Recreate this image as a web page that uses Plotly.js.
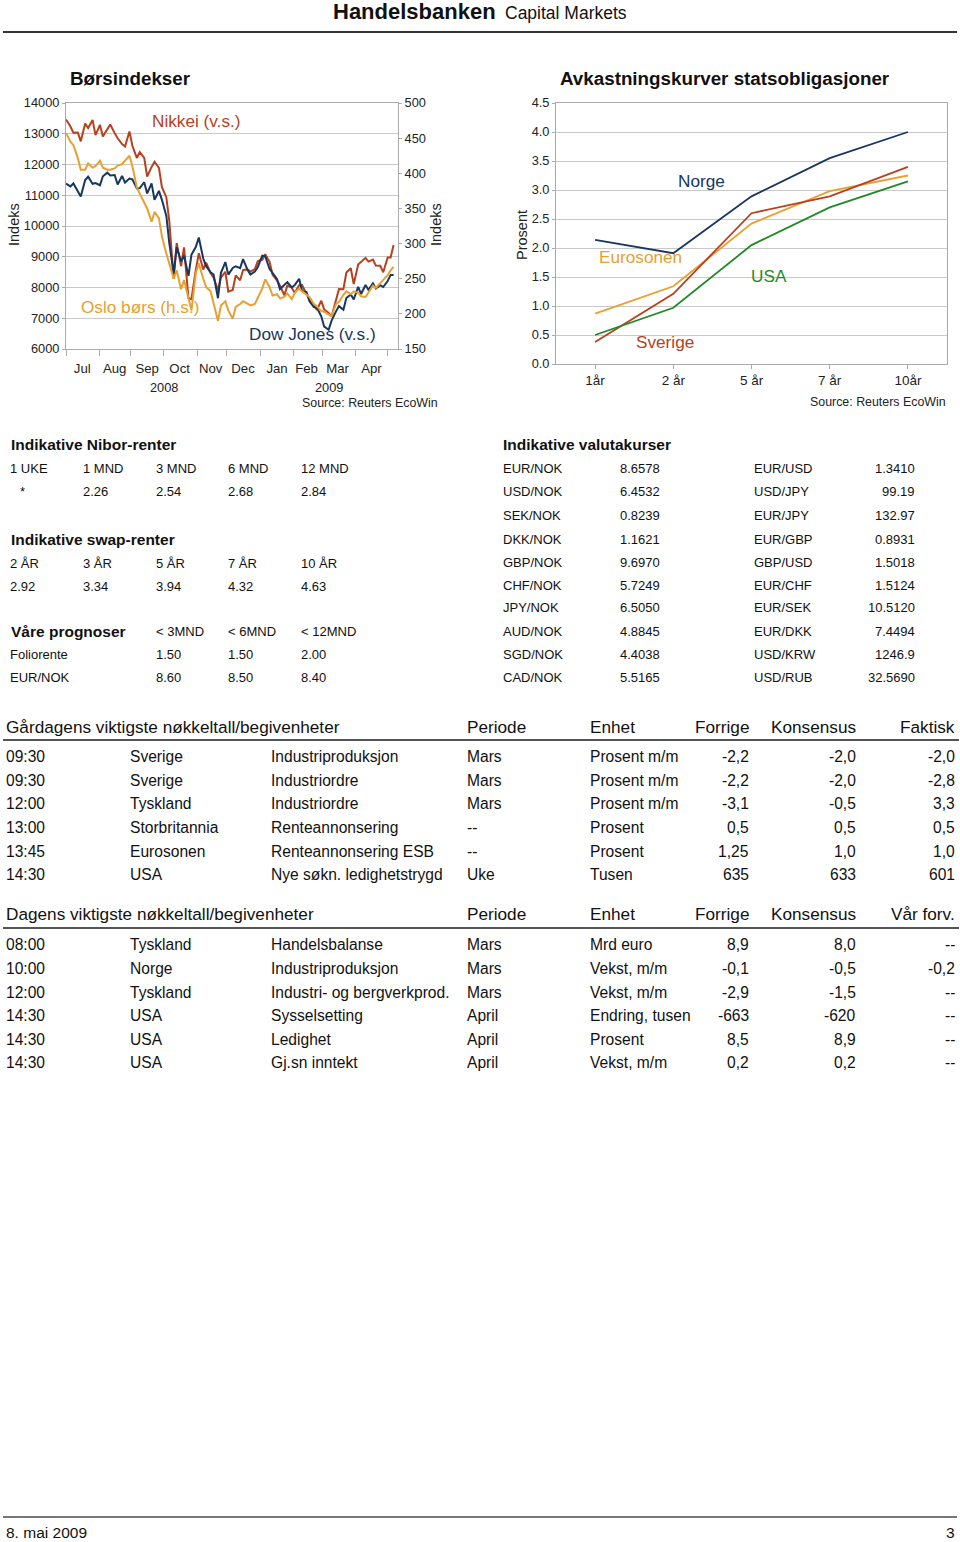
<!DOCTYPE html>
<html><head><meta charset="utf-8">
<script src="https://cdn.plot.ly/plotly-3.0.1.min.js"></script>
<style>html,body{margin:0;padding:0;background:#fff}#chart{width:960px;height:1542px}</style>
</head><body><div id="chart"></div>
<script>
// ---------------- DATA ----------------
const dates = [
'2008-07-01','2008-07-04','2008-07-08','2008-07-11','2008-07-15','2008-07-18','2008-07-22','2008-07-25','2008-07-29','2008-08-01',
'2008-08-05','2008-08-08','2008-08-12','2008-08-15','2008-08-19','2008-08-22','2008-08-26','2008-08-29','2008-09-02','2008-09-05',
'2008-09-09','2008-09-12','2008-09-16','2008-09-19','2008-09-23','2008-09-26','2008-09-30','2008-10-03','2008-10-07','2008-10-10',
'2008-10-14','2008-10-17','2008-10-21','2008-10-24','2008-10-28','2008-10-31','2008-11-04','2008-11-07','2008-11-11','2008-11-14',
'2008-11-18','2008-11-21','2008-11-25','2008-11-28','2008-12-02','2008-12-05','2008-12-09','2008-12-12','2008-12-16','2008-12-19',
'2008-12-23','2008-12-26','2008-12-30','2009-01-02','2009-01-06','2009-01-09','2009-01-13','2009-01-16','2009-01-20','2009-01-23',
'2009-01-27','2009-01-30','2009-02-03','2009-02-06','2009-02-10','2009-02-13','2009-02-17','2009-02-20','2009-02-24','2009-02-27',
'2009-03-03','2009-03-06','2009-03-10','2009-03-13','2009-03-17','2009-03-20','2009-03-24','2009-03-27','2009-03-31','2009-04-03',
'2009-04-07','2009-04-10','2009-04-14','2009-04-17','2009-04-21','2009-04-24','2009-04-28','2009-05-01','2009-05-05','2009-05-07'];

const nikkei = [
13464,13237,13033,13039,12754,13334,13187,13450,12956,13289,
12914,13168,13303,13020,12852,12666,12588,13072,12609,12213,
12400,12215,11610,11921,12090,11893,11260,10938,10156,8276,
9447,8693,9306,7649,7621,8577,9114,8583,8809,8463,
8328,7910,8324,8512,7863,7917,8395,8235,8568,8588,
8517,8599,8860,8900,9080,8836,8413,8230,8065,7745,
8062,7994,7825,8076,8083,7779,7646,7416,7268,7568,
7280,7173,7054,7569,7949,7945,8488,8626,8110,8749,
8832,8964,8843,8907,8711,8707,8494,8977,8977,9385];

const dowJones = [
11383,11289,11384,11101,10963,11496,11603,11371,11397,11326,
11616,11734,11643,11659,11348,11628,11413,11544,11516,11220,
11231,11422,11059,11388,10854,11143,10851,10325,9447,8451,
9311,8852,9034,8378,9065,9325,9625,8943,8694,8497,
8424,7650,8479,8829,8419,8635,8691,8629,8924,8579,
8419,8515,8668,9034,9015,8599,8474,8281,7949,8077,
8175,8001,8078,8281,7888,7850,7553,7366,7351,7063,
6726,6627,6926,7224,7395,7278,7660,7776,7609,8018,
7789,8083,7921,8132,7969,8076,8016,8212,8410,8409];

const osloBors = [
457,445,440,422,405,405,414,408,410,418,
408,405,405,407,411,413,418,425,410,380,
371,358,350,331,345,336,310,286,272,250,
262,235,248,222,205,258,272,250,238,232,
215,190,212,218,205,193,210,214,218,215,
212,214,222,236,249,238,226,228,222,224,
229,221,230,236,232,227,224,214,211,204,
203,199,197,214,217,227,232,228,232,230,
225,224,230,240,237,244,248,255,262,267];

const monthMids = ['2008-07-16','2008-08-15','2008-09-16','2008-10-16','2008-11-14','2008-12-16','2009-01-16','2009-02-13','2009-03-16','2009-04-16'];
const monthLabels = ['Jul','Aug','Sep','Oct','Nov','Dec','Jan','Feb','Mar','Apr'];
const monthStarts = ['2008-07-01','2008-08-01','2008-09-01','2008-10-01','2008-11-03','2008-12-01','2009-01-01','2009-02-02','2009-03-02','2009-04-01','2009-05-01'];

const maturities = ['1år','2 år','5 år','7 år','10år'];
const norge     = [2.14,1.91,2.89,3.55,4.00];
const eurosonen = [0.87,1.34,2.42,2.98,3.25];
const sverige   = [0.38,1.21,2.60,2.89,3.40];
const usa       = [0.50,0.97,2.05,2.70,3.15];

const niborHeads  = ['1 UKE','1 MND','3 MND','6 MND','12 MND'];
const niborValues = ['*','2.26','2.54','2.68','2.84'];
const swapHeads   = ['2 ÅR','3 ÅR','5 ÅR','7 ÅR','10 ÅR'];
const swapValues  = ['2.92','3.34','3.94','4.32','4.63'];
const prognoseHeads = ['< 3MND','< 6MND','< 12MND'];
const prognoseRows  = [['Foliorente','1.50','1.50','2.00'],['EUR/NOK','8.60','8.50','8.40']];

const fxPairsLeft  = ['EUR/NOK','USD/NOK','SEK/NOK','DKK/NOK','GBP/NOK','CHF/NOK','JPY/NOK','AUD/NOK','SGD/NOK','CAD/NOK'];
const fxRatesLeft  = ['8.6578','6.4532','0.8239','1.1621','9.6970','5.7249','6.5050','4.8845','4.4038','5.5165'];
const fxPairsRight = ['EUR/USD','USD/JPY','EUR/JPY','EUR/GBP','GBP/USD','EUR/CHF','EUR/SEK','EUR/DKK','USD/KRW','USD/RUB'];
const fxRatesRight = ['1.3410','99.19','132.97','0.8931','1.5018','1.5124','10.5120','7.4494','1246.9','32.5690'];

const yesterdayHeads = ['Gårdagens viktigste nøkkeltall/begivenheter','Periode','Enhet','Forrige','Konsensus','Faktisk'];
const yesterdayRows = [
['09:30','Sverige','Industriproduksjon','Mars','Prosent m/m','-2,2','-2,0','-2,0'],
['09:30','Sverige','Industriordre','Mars','Prosent m/m','-2,2','-2,0','-2,8'],
['12:00','Tyskland','Industriordre','Mars','Prosent m/m','-3,1','-0,5','3,3'],
['13:00','Storbritannia','Renteannonsering','--','Prosent','0,5','0,5','0,5'],
['13:45','Eurosonen','Renteannonsering ESB','--','Prosent','1,25','1,0','1,0'],
['14:30','USA','Nye søkn. ledighetstrygd','Uke','Tusen','635','633','601']];
const todayHeads = ['Dagens viktigste nøkkeltall/begivenheter','Periode','Enhet','Forrige','Konsensus','Vår forv.'];
const todayRows = [
['08:00','Tyskland','Handelsbalanse','Mars','Mrd euro','8,9','8,0','--'],
['10:00','Norge','Industriproduksjon','Mars','Vekst, m/m','-0,1','-0,5','-0,2'],
['12:00','Tyskland','Industri- og bergverkprod.','Mars','Vekst, m/m','-2,9','-1,5','--'],
['14:30','USA','Sysselsetting','April','Endring, tusen','-663','-620','--'],
['14:30','USA','Ledighet','April','Prosent','8,5','8,9','--'],
['14:30','USA','Gj.sn inntekt','April','Vekst, m/m','0,2','0,2','--']];

// ---------------- STYLE / LAYOUT ----------------
const W = 960, H = 1542;
const SANS = '"Liberation Sans", Arial, Helvetica, sans-serif';
const NARROW = SANS;
const NAVY = '#17375E', ORANGE = '#E8A030', RED = '#B8401F', GREEN = '#1F8A25';
const AXC = '#ababab', GRID = '#c9c9c9';

const annotations = [];
function addText(text, x, y, o) {
  o = o || {};
  annotations.push({
    text: text, x: x / W, y: 1 - y / H, xref: 'paper', yref: 'paper', showarrow: false,
    xanchor: o.anchor || 'left', yanchor: 'middle', textangle: o.angle || 0,
    borderpad: 0, borderwidth: 0,
    font: {family: o.family || SANS, size: o.size || 13, color: o.color || '#111', weight: o.bold ? 'bold' : 'normal'}
  });
}

// header
addText('Handelsbanken', 333, 12, {size: 22, bold: true, color: '#111'});
addText('Capital Markets', 505, 13, {size: 17.5, color: '#111'});

// chart texts
const TITLE = 18.8, LBL = 17.2, TICK = 12.8, SRC = 12.4;
addText('Børsindekser', 70, 78, {size: TITLE, bold: true});
addText('Avkastningskurver statsobligasjoner', 560, 78, {size: TITLE, bold: true});
addText('Indeks', 14, 225, {size: 14.5, angle: -90, anchor: 'center', color: '#222'});
addText('Indeks', 436, 225, {size: 14.5, angle: -90, anchor: 'center', color: '#222'});
addText('Prosent', 522, 235, {size: 14.5, angle: -90, anchor: 'center', color: '#222'});
addText('Nikkei (v.s.)', 196, 121, {size: LBL, anchor: 'center', color: RED});
addText('Oslo børs (h.s.)', 140, 307, {size: LBL, anchor: 'center', color: ORANGE});
addText('Dow Jones (v.s.)', 312, 334, {size: LBL, anchor: 'center', color: NAVY});
addText('2008', 164, 387, {size: TICK, anchor: 'center', color: '#222'});
addText('2009', 329, 387, {size: TICK, anchor: 'center', color: '#222'});
addText('Source: Reuters EcoWin', 438, 403, {size: SRC, anchor: 'right', color: '#222'});
addText('Norge', 701, 181, {size: LBL, anchor: 'center', color: NAVY});
addText('Eurosonen', 640, 257, {size: LBL, anchor: 'center', color: ORANGE});
addText('USA', 769, 276, {size: LBL, anchor: 'center', color: GREEN});
addText('Sverige', 665, 342, {size: LBL, anchor: 'center', color: RED});
addText('Source: Reuters EcoWin', 946, 402, {size: SRC, anchor: 'right', color: '#222'});

// small tables (left)
const smallCols = [10, 83, 156, 228, 301];
const HB = 15.5, SM = 13;
addText('Indikative Nibor-renter', 11, 445, {size: HB, bold: true});
niborHeads.forEach((t, i) => addText(t, smallCols[i], 468, {size: SM}));
niborValues.forEach((t, i) => addText(t, t === '*' ? 20 : smallCols[i], 492, {size: SM}));
addText('Indikative swap-renter', 11, 539, {size: HB, bold: true});
swapHeads.forEach((t, i) => addText(t, smallCols[i], 563, {size: SM}));
swapValues.forEach((t, i) => addText(t, smallCols[i], 586, {size: SM}));
addText('Våre prognoser', 11, 631, {size: HB, bold: true});
prognoseHeads.forEach((t, i) => addText(t, smallCols[i + 2], 631, {size: SM}));
prognoseRows.forEach((row, r) => {
  const y = [654, 677][r];
  addText(row[0], smallCols[0], y, {size: SM});
  row.slice(1).forEach((t, i) => addText(t, smallCols[i + 2], y, {size: SM}));
});

// FX table (right)
addText('Indikative valutakurser', 503, 445, {size: HB, bold: true});
const fxY = [468, 492, 516, 539, 562, 585, 608, 631, 654, 677];
fxPairsLeft.forEach((t, i) => {
  addText(t, 503, fxY[i], {size: SM});
  addText(fxRatesLeft[i], 620, fxY[i], {size: SM});
  addText(fxPairsRight[i], 754, fxY[i], {size: SM});
  addText(fxRatesRight[i], 915, fxY[i], {size: SM, anchor: 'right'});
});

// events tables
const evLeft = [6, 130, 271, 467, 590];
const evRight = [749, 856, 955];
const EVH = 17.2, EVR = 15.6;
function eventTable(heads, rows, headY, rowY) {
  addText(heads[0], 6, headY, {size: EVH});
  addText(heads[1], evLeft[3], headY, {size: EVH});
  addText(heads[2], evLeft[4], headY, {size: EVH});
  heads.slice(3).forEach((t, i) => addText(t, evRight[i], headY, {size: EVH, anchor: 'right'}));
  rows.forEach((row, r) => {
    row.slice(0, 5).forEach((t, i) => addText(t, evLeft[i], rowY[r], {size: EVR}));
    row.slice(5).forEach((t, i) => addText(t, evRight[i], rowY[r], {size: EVR, anchor: 'right'}));
  });
}
eventTable(yesterdayHeads, yesterdayRows, 727, [756, 780, 803, 827, 851, 874]);
eventTable(todayHeads, todayRows, 914, [944, 968, 992, 1015, 1039, 1062]);

// footer
addText('8. mai 2009', 6, 1532, {size: 15.5});
addText('3', 955, 1532, {size: 15.5, anchor: 'right'});

function hline(y, x0, x1, color, width) {
  return {type: 'line', xref: 'paper', yref: 'paper', x0: x0 / W, x1: x1 / W, y0: 1 - y / H, y1: 1 - y / H, line: {color: color, width: width}};
}
const shapes = [
  hline(32, 3, 957, '#333', 2),
  hline(740, 3, 959, '#555', 2),
  hline(928, 3, 959, '#555', 2),
  hline(1517, 3, 957, '#777', 2)
];

const tickFont = {family: SANS, size: TICK, color: '#222'};

const traces = [
  {x: dates, y: osloBors, xaxis: 'x', yaxis: 'y2', mode: 'lines', line: {color: ORANGE, width: 2}, name: 'Oslo børs (h.s.)'},
  {x: dates, y: nikkei, xaxis: 'x', yaxis: 'y', mode: 'lines', line: {color: RED, width: 2}, name: 'Nikkei (v.s.)'},
  {x: dates, y: dowJones, xaxis: 'x', yaxis: 'y', mode: 'lines', line: {color: NAVY, width: 2}, name: 'Dow Jones (v.s.)'},
  {x: maturities, y: norge, xaxis: 'x2', yaxis: 'y3', mode: 'lines', line: {color: NAVY, width: 1.8}, name: 'Norge'},
  {x: maturities, y: eurosonen, xaxis: 'x2', yaxis: 'y3', mode: 'lines', line: {color: ORANGE, width: 1.8}, name: 'Eurosonen'},
  {x: maturities, y: sverige, xaxis: 'x2', yaxis: 'y3', mode: 'lines', line: {color: RED, width: 1.8}, name: 'Sverige'},
  {x: maturities, y: usa, xaxis: 'x2', yaxis: 'y3', mode: 'lines', line: {color: GREEN, width: 1.8}, name: 'USA'}
];

const layout = {
  width: W, height: H, margin: {l: 0, r: 0, t: 0, b: 0},
  paper_bgcolor: '#fff', plot_bgcolor: '#fff', showlegend: false, hovermode: false,
  font: {family: SANS, size: 13, color: '#222'},
  xaxis: {
    domain: [66 / W, 398 / W], anchor: 'y', type: 'date',
    range: ['2008-07-01', '2009-05-12'], rangebreaks: [{bounds: ['sat', 'mon']}],
    tickmode: 'array', tickvals: monthMids, ticktext: monthLabels, ticks: '', ticklabelstandoff: 7,
    showgrid: false, zeroline: false, showline: true, linecolor: AXC, mirror: true,
    tickfont: {family: SANS, size: 13.2, color: '#222'},
    minor: {tickmode: 'array', tickvals: monthStarts, ticks: 'outside', ticklen: 6, tickcolor: AXC, showgrid: false}
  },
  yaxis: {
    domain: [1 - 349 / H, 1 - 103 / H], anchor: 'x', range: [6000, 14000], tick0: 6000, dtick: 1000, tickformat: 'd',
    showgrid: true, gridcolor: GRID, zeroline: false, showline: true, linecolor: AXC,
    ticks: 'outside', ticklen: 3, tickcolor: AXC, tickfont: tickFont
  },
  yaxis2: {
    overlaying: 'y', side: 'right', anchor: 'x', range: [150, 500], tick0: 150, dtick: 50, tickformat: 'd',
    showgrid: false, zeroline: false, showline: true, linecolor: AXC,
    ticks: 'outside', ticklen: 3, tickcolor: AXC, tickfont: tickFont
  },
  xaxis2: {
    domain: [556 / W, 947 / W], anchor: 'y3', type: 'category', range: [-0.5, 4.5],
    showgrid: false, zeroline: false, showline: true, mirror: true, linecolor: AXC,
    ticks: 'outside', ticklen: 4, tickcolor: AXC, tickfont: {family: SANS, size: 13.5, color: '#222'}
  },
  yaxis3: {
    domain: [1 - 364 / H, 1 - 103 / H], anchor: 'x2', range: [0, 4.5], tick0: 0, dtick: 0.5, tickformat: '.1f',
    showgrid: true, gridcolor: GRID, zeroline: false, showline: true, mirror: true, linecolor: AXC,
    ticks: 'outside', ticklen: 3, tickcolor: AXC, tickfont: tickFont
  },
  shapes: shapes,
  annotations: annotations
};

Plotly.newPlot('chart', traces, layout, {displayModeBar: false, staticPlot: true});
</script>
</body></html>
